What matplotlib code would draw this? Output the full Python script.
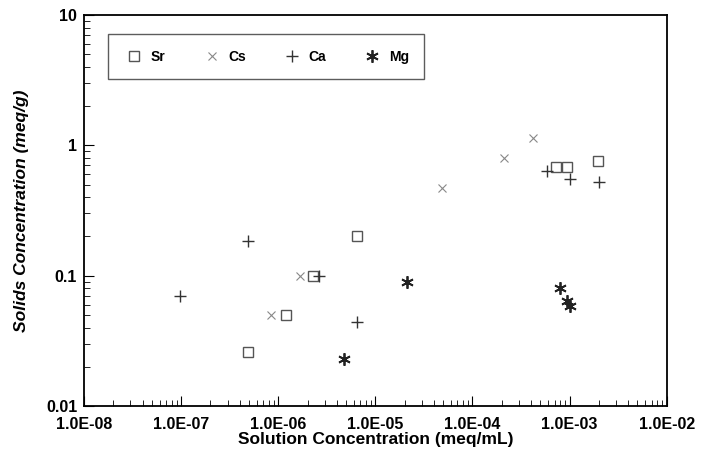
import matplotlib
matplotlib.use("Agg")
import matplotlib.pyplot as plt
from matplotlib.ticker import FuncFormatter, LogLocator, NullFormatter

plt.rcParams['font.family'] = ['Liberation Sans', 'DejaVu Sans']

# values (solution meq/mL, solids meq/g)
sr_x = [6.5e-6, 2.3e-6, 1.2e-6, 4.9e-7, 7.2e-4, 9.3e-4, 1.95e-3]
sr_y = [0.20, 0.10, 0.050, 0.026, 0.68, 0.68, 0.76]

cs_x = [4.2e-4, 2.1e-4, 4.9e-5, 1.67e-6, 8.4e-7]
cs_y = [1.14, 0.80, 0.47, 0.10, 0.050]

ca_x = [9.8e-8, 4.9e-7, 2.6e-6, 6.5e-6, 5.8e-4, 1.0e-3, 2.0e-3]
ca_y = [0.070, 0.185, 0.10, 0.044, 0.63, 0.55, 0.52]

mg_x = [4.7e-6, 2.1e-5, 7.9e-4, 9.4e-4, 1.0e-3]
mg_y = [0.023, 0.089, 0.081, 0.064, 0.059]

y_ticks = [0.01, 0.1, 1, 10]
y_labels = ['0.01', '0.1', '1', '10']


def sci_fmt(x, pos):
    """format tick as 1.0E-05"""
    return f'{x:.1E}'


fig = plt.figure(figsize=(7.01, 4.5), dpi=100)
ax = fig.add_axes([0.12, 0.0978, 0.831, 0.869])
ax.set_xscale('log')
ax.set_yscale('log')
ax.set_xlim(1e-8, 1e-2)
ax.set_ylim(0.01, 10)

ax.plot(sr_x, sr_y, ls='none', marker='s', ms=7, mfc='none', mec='#555555',
        mew=1.0, label='Sr')
ax.plot(cs_x, cs_y, ls='none', marker='x', ms=6, color='#888888', mew=0.8,
        label='Cs')
ax.plot(ca_x, ca_y, ls='none', marker='+', ms=9, color='#333333', mew=1.0,
        label='Ca')
ax.plot(mg_x, mg_y, ls='none', marker=(6, 2, 0), ms=9, color='#222222',
        mew=1.3, label='Mg')

ax.xaxis.set_major_locator(LogLocator(base=10, numticks=10))
ax.xaxis.set_major_formatter(FuncFormatter(sci_fmt))
ax.xaxis.set_minor_locator(LogLocator(base=10, subs=range(2, 10), numticks=20))
ax.xaxis.set_minor_formatter(NullFormatter())
ax.set_yticks(y_ticks)
ax.set_yticklabels(y_labels)
ax.yaxis.set_minor_locator(LogLocator(base=10, subs=range(2, 10), numticks=20))
ax.yaxis.set_minor_formatter(NullFormatter())

ax.tick_params(which='both', direction='in', top=False, right=False)
ax.tick_params(which='major', length=7, width=0.8, labelsize=11.5)
ax.tick_params(which='minor', length=4, width=0.6)
ax.tick_params(axis='x', pad=8)
ax.tick_params(axis='y', pad=5)
for lab in ax.get_xticklabels() + ax.get_yticklabels():
    lab.set_fontweight('bold')
for s in ax.spines.values():
    s.set_linewidth(1.3)

ax.set_xlabel('Solution Concentration (meq/mL)', fontsize=12.5,
              fontweight='bold', labelpad=0)
ax.set_ylabel('Solids Concentration (meq/g)', fontsize=12.5, style='italic',
              fontweight='bold', labelpad=12)

leg = ax.legend(loc='upper left', bbox_to_anchor=(0.041, 0.95), ncol=4,
                frameon=True, fancybox=False, edgecolor='#333333',
                prop={'size': 10, 'weight': 'bold'}, handletextpad=0.4,
                columnspacing=2.5, borderpad=1.1, borderaxespad=0,
                handlelength=1.6)
leg.get_frame().set_linewidth(1.0)

fig.savefig('out.png', dpi=100)
